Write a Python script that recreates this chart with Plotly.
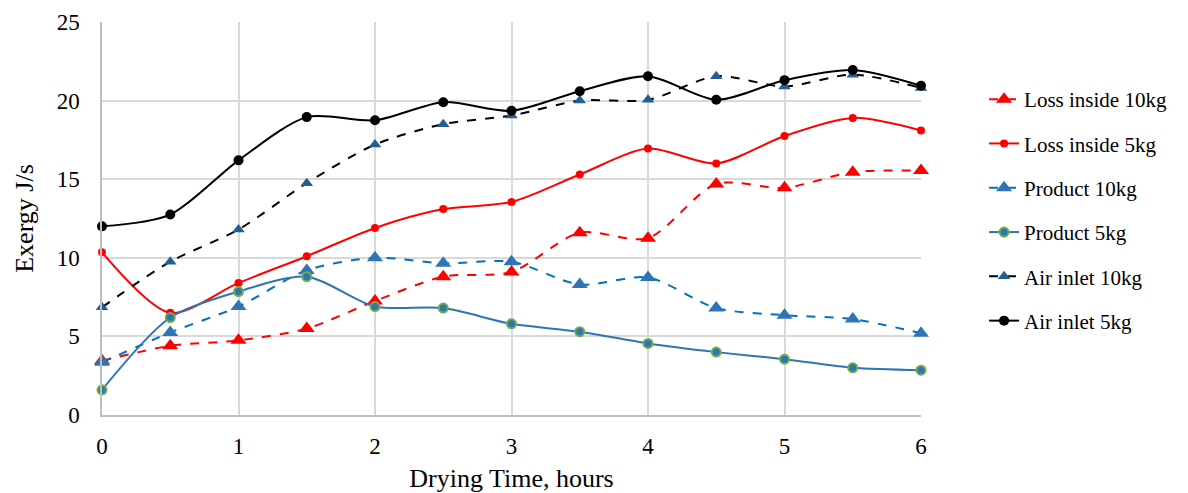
import plotly.graph_objects as go

hours = [0, 0.5, 1, 1.5, 2, 2.5, 3, 3.5, 4, 4.5, 5, 5.5, 6]
loss_10kg = [3.45, 4.4, 4.75, 5.5, 7.25, 8.8, 9.1, 11.6, 11.25, 14.7, 14.45, 15.45, 15.55]
loss_5kg = [10.35, 6.5, 8.4, 10.1, 11.9, 13.1, 13.55, 15.3, 16.95, 16.0, 17.75, 18.9, 18.1]
product_10kg = [3.35, 5.25, 6.9, 9.2, 10.0, 9.65, 9.75, 8.3, 8.75, 6.8, 6.35, 6.1, 5.2]
product_5kg = [1.6, 6.2, 7.85, 8.8, 6.9, 6.8, 5.8, 5.3, 4.55, 4.0, 3.55, 3.0, 2.85]
air_10kg = [6.85, 9.75, 11.8, 14.75, 17.2, 18.5, 19.05, 20.0, 20.05, 21.55, 20.9, 21.65, 20.8]
air_5kg = [12.0, 12.75, 16.2, 18.95, 18.75, 19.9, 19.35, 20.6, 21.55, 20.05, 21.3, 21.95, 20.95]
x_ticks = [0, 1, 2, 3, 4, 5, 6]
y_ticks = [0, 5, 10, 15, 20, 25]

FONT = "Liberation Serif"

fig = go.Figure()

def add(name, y, color, dash, symbol, msize, mcolor, mline_color=None, mline_width=0, group=""):
    fig.add_trace(go.Scatter(
        x=hours, y=y, name=name, mode="lines+markers",
        line=dict(color=color, width=2, dash=dash, shape="spline", smoothing=0.8),
        marker=dict(symbol=symbol, size=msize, color=mcolor,
                    line=dict(color=mline_color or mcolor, width=mline_width)),
        legendgroup=group, cliponaxis=False,
    ))

add("Loss inside 10kg", loss_10kg, "#FF0000", "dash", "triangle-up", 14, "#FF0000", group="a")
add("Loss inside 5kg", loss_5kg, "#FF0000", "solid", "circle", 8, "#FF0000", group="b")
add("Product 10kg", product_10kg, "#0070C0", "dash", "triangle-up", 14, "#2E75B6", group="c")
add("Product 5kg", product_5kg, "#2E75B6", "solid", "circle", 9, "#2E75B6", "#70AD47", 2, group="d")
add("Air inlet 10kg", air_10kg, "#000000", "dash", "triangle-up", 11, "#255E91", group="e")
add("Air inlet 5kg", air_5kg, "#000000", "solid", "circle", 10, "#000000", group="f")

fig.update_layout(
    width=1188, height=493,
    margin=dict(l=102, r=267, t=22, b=78),
    paper_bgcolor="white", plot_bgcolor="white",
    font=dict(family=FONT, size=22, color="#000000"),
    legend=dict(x=1.077, xanchor="left", y=0.855, yanchor="top",
                font=dict(family=FONT, size=21), tracegroupgap=14,
                bgcolor="rgba(0,0,0,0)"),
    xaxis=dict(range=[0, 6], tickvals=x_ticks, showgrid=True,
               gridcolor="#D9D9D9", gridwidth=1.5, zeroline=False,
               showline=True, linecolor="#BFBFBF", linewidth=1.5,
               ticks="", ticklabelstandoff=10, automargin=False,
               tickfont=dict(family=FONT, size=23),
               title=dict(text="Drying Time, hours", font=dict(family=FONT, size=26), standoff=18)),
    yaxis=dict(range=[0, 25], tickvals=y_ticks, showgrid=True,
               gridcolor="#D9D9D9", gridwidth=1.5, zeroline=False,
               showline=True, linecolor="#BFBFBF", linewidth=1.5,
               ticks="", ticklabelstandoff=16, automargin=False,
               tickfont=dict(family=FONT, size=23),
               title=dict(text="Exergy J/s", font=dict(family=FONT, size=26), standoff=16)),
)

fig.write_html("out.html")
